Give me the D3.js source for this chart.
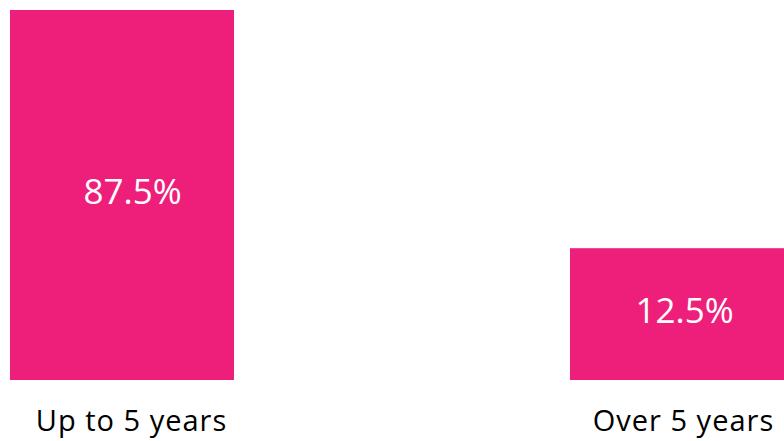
<!DOCTYPE html>
<html>
<head>
<meta charset="utf-8">
<script src="https://cdn.jsdelivr.net/npm/d3@7/dist/d3.min.js"></script>
<style>
  html, body { margin: 0; padding: 0; background: #fff; overflow: hidden; }
  svg { display: block; }
</style>
</head>
<body>
<svg id="chart" width="784" height="441"></svg>
<script>
// Share of tenure, two groups
const categories = ["Up to 5 years", "Over 5 years"];
const values = [87.5, 12.5];
const valueLabels = ["87.5%", "12.5%"];

const width = 784, height = 441;
const barColor = "#EE1F7A";

const svg = d3.select("#chart");

// Bars: band scale running past the right edge
const x = d3.scaleBand()
  .domain(categories)
  .range([10, 794])
  .paddingInner(0.6)
  .paddingOuter(0);

// Text sits on its own slightly tighter spacing
const xLabel = d3.scalePoint()
  .domain(categories)
  .range([131, 683]);

const y = d3.scaleLinear()
  .domain([-29, 87.5])
  .range([380, 10]);

const g = svg.append("g");

g.selectAll("rect.bar")
  .data(values)
  .join("rect")
  .attr("class", "bar")
  .attr("x", (d, i) => x(categories[i]))
  .attr("width", x.bandwidth())
  .attr("y", d => y(d))
  .attr("height", d => y.range()[0] - y(d))
  .attr("fill", barColor);

g.selectAll("text.value")
  .data(values)
  .join("text")
  .attr("class", "value")
  .attr("x", (d, i) => xLabel(categories[i]) + 1.5)
  .attr("y", d => (y(d) + y.range()[0]) / 2 + 8.5)
  .attr("text-anchor", "middle")
  .attr("fill", "#fff")
  .style("font-family", "'Open Sans', sans-serif")
  .style("font-size", "35px")
  .text((d, i) => valueLabels[i]);

// Category axis without line or ticks
const axis = d3.axisBottom(xLabel).tickSize(0).tickPadding(0);
const axisG = svg.append("g")
  .attr("transform", "translate(0,431)")
  .call(axis);
axisG.select(".domain").remove();
axisG.selectAll("text")
  .attr("dy", null)
  .attr("y", 0)
  .attr("fill", "#000")
  .style("font-family", "'Open Sans', sans-serif")
  .style("font-size", "29px")
  .style("letter-spacing", "1px");
</script>
</body>
</html>
